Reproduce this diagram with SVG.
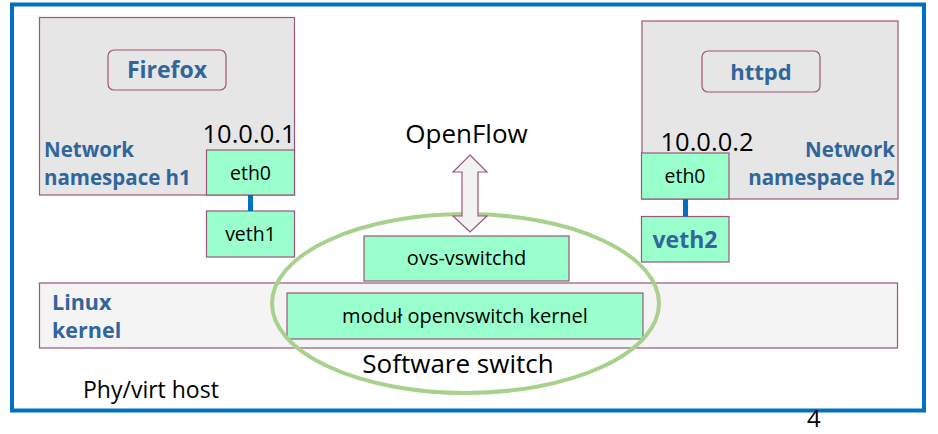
<svg xmlns="http://www.w3.org/2000/svg" width="938" height="434" viewBox="0 0 938 434">
<style>
.ns{fill:#E6E6E6;stroke:#9B5777;stroke-width:1.2}
.app{fill:none;stroke:#9B5777;stroke-width:1.2}
.if{fill:#99FFCC;stroke:#9B5777;stroke-width:1.2}
.kern{fill:#F4F4F4;stroke:#9B5777;stroke-width:1.2}
.b{font-family:"Open Sans","Noto Sans",sans-serif;font-weight:bold;fill:#31659C}
.t{font-family:"Open Sans","Noto Sans",sans-serif;fill:#000}
.link{stroke:#0070C0;stroke-width:5}
</style>
<rect x="12" y="4.5" width="912" height="406" fill="#fff" stroke="#0070C0" stroke-width="4"/>
<g id="kernel">
<rect class="kern" x="39.5" y="283" width="858" height="65"/>
<text class="b" x="52" y="310" font-size="21.5">Linux</text>
<text class="b" x="52" y="338" font-size="21.5">kernel</text>
</g>
<g id="h1">
<rect class="ns" x="39.5" y="17.5" width="255" height="177.5"/>
<text class="b" x="44" y="157" font-size="20.5">Network</text>
<text class="b" x="44" y="185" font-size="20.5">namespace h1</text>
</g>
<g id="firefox">
<rect class="app" x="108" y="50" width="118" height="40" rx="6"/>
<text class="b" x="167" y="78" font-size="23" text-anchor="middle">Firefox</text>
</g>
<g id="h1-eth0">
<text class="t" x="249" y="143" font-size="25.5" text-anchor="middle">10.0.0.1</text>
<rect class="if" x="206.5" y="150" width="88" height="45"/>
<text class="t" x="250.5" y="180" font-size="19.5" text-anchor="middle">eth0</text>
</g>
<g id="veth1">
<rect class="if" x="206.5" y="211" width="88" height="46"/>
<text class="t" x="250.5" y="241" font-size="19.5" text-anchor="middle">veth1</text>
</g>
<g id="h2">
<rect class="ns" x="642" y="21" width="256" height="178"/>
<text class="b" x="895" y="157" font-size="20.5" text-anchor="end">Network</text>
<text class="b" x="895" y="185" font-size="20.5" text-anchor="end">namespace h2</text>
</g>
<g id="httpd">
<rect class="app" x="702" y="51" width="118" height="41" rx="6"/>
<text class="b" x="761" y="80" font-size="22" text-anchor="middle">httpd</text>
</g>
<g id="h2-eth0">
<text class="t" x="707" y="151" font-size="25.5" text-anchor="middle">10.0.0.2</text>
<rect class="if" x="641.5" y="153" width="87.5" height="46"/>
<text class="t" x="685" y="183" font-size="19.5" text-anchor="middle">eth0</text>
</g>
<g id="veth2">
<rect class="if" x="641.5" y="216.5" width="87.5" height="45.5"/>
<text class="b" x="685" y="248" font-size="23" text-anchor="middle">veth2</text>
</g>
<g id="ovs-vswitchd">
<rect class="if" x="364" y="236" width="205" height="45"/>
<text class="t" x="466.5" y="265" font-size="20" text-anchor="middle">ovs-vswitchd</text>
</g>
<g id="modul">
<rect class="if" x="287" y="293" width="356" height="46"/>
<text class="t" x="465" y="323" font-size="20" text-anchor="middle">moduł openvswitch kernel</text>
</g>
<g id="software-switch">
<ellipse cx="465.5" cy="303.5" rx="193.5" ry="89.5" fill="none" stroke="#A9D18E" stroke-width="4"/>
<text class="t" x="458" y="373" font-size="26" text-anchor="middle">Software switch</text>
</g>
<g id="openflow">
<text class="t" x="466.5" y="143" font-size="26" text-anchor="middle">OpenFlow</text>
</g>
<g id="connectors">
<line class="link" x1="250.5" y1="195" x2="250.5" y2="211"/>
<line class="link" x1="685.5" y1="199" x2="685.5" y2="216.5"/>
<path d="M470,155 L487,172 L478,172 L478,216 L487,216 L470,232 L453,216 L462,216 L462,172 L453,172 Z" fill="#F2F2F2" stroke="#9B5777" stroke-width="1.2"/>
</g>
<text class="t" x="83" y="398" font-size="23">Phy/virt host</text>
<text class="t" x="807" y="427" font-size="24">4</text>
</svg>
